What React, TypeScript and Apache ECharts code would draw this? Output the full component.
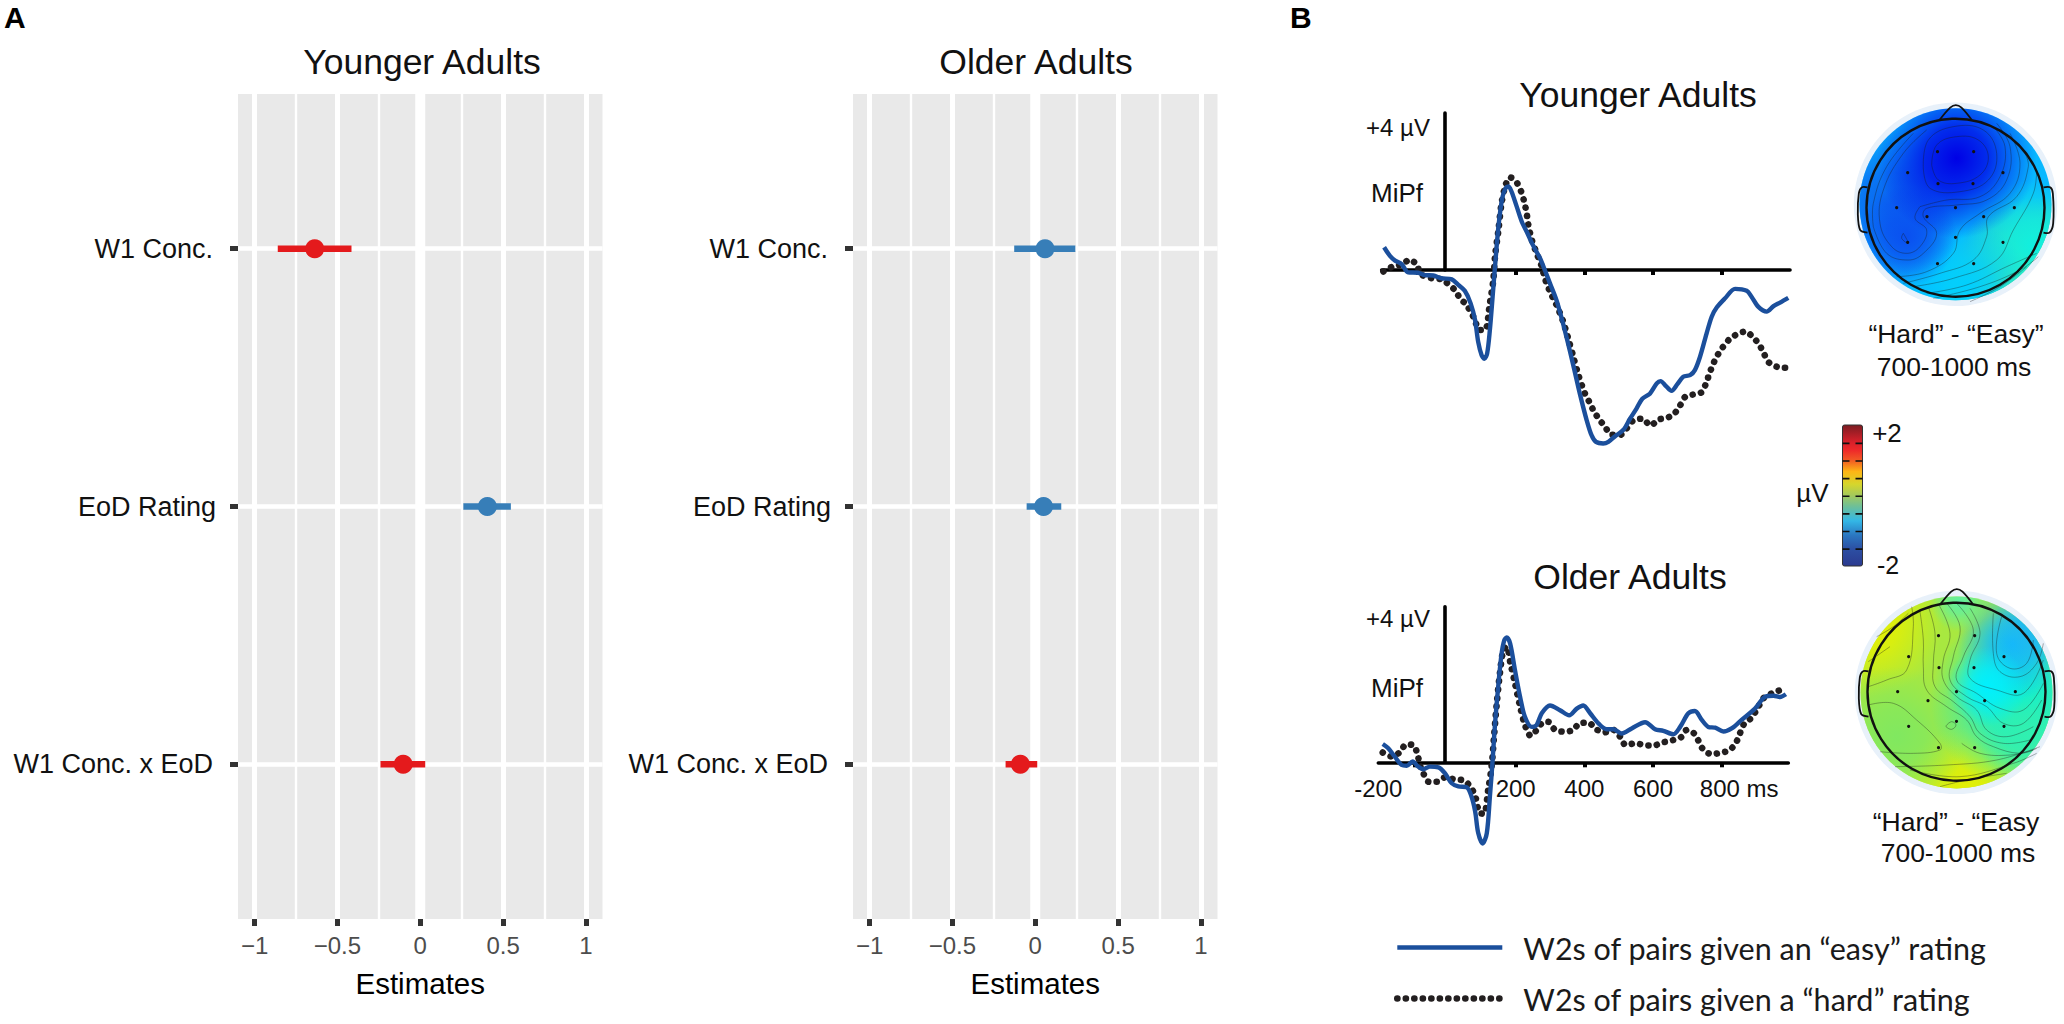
import React, { useEffect, useRef } from "react";
import * as echarts from "echarts";

const FONT = "Liberation Sans";
const rowLabels = ["W1 Conc. x EoD", "EoD Rating", "W1 Conc."];
const rowValues = [1, 2, 3];
const estimateTicks = [-1, -0.5, 0, 0.5, 1];
const estimateMinorTicks = [-0.75, -0.25, 0.25, 0.75];
// [low, estimate, high, row]
const youngerEstimates = [
  [-0.86, -0.637, -0.415, 3],
  [0.26, 0.405, 0.547, 2],
  [-0.24, -0.103, 0.03, 1],
];
const olderEstimates = [
  [-0.127, 0.059, 0.242, 3],
  [-0.052, 0.05, 0.157, 2],
  [-0.179, -0.09, 0.012, 1],
];
const zeroLine = [[0, 0.4], [0, 3.6]];

const easyName = "W2s of pairs given an “easy” rating";
const hardName = "W2s of pairs given a “hard” rating";

const youngerEasy = [[-183,.58],[-166,.36],[-151,.24],[-132,.15],[-113,-.06],[-84,-.07],[-64,-.13],[-40,-.14],[-16,-.21],[14,-.24],[33,-.38],[52,-.53],[69,-.85],[82,-1.28],[91,-1.83],[101,-2.17],[109,-2.26],[117,-2.13],[125,-1.53],[133,-.68],[140,.09],[150,1.11],[161,1.83],[171,2.09],[179,2.13],[188,2.0],[203,1.62],[218,1.23],[232,.98],[250,.64],[271,.3],[285,0],[300,-.34],[319,-.77],[334,-1.23],[349,-1.74],[368,-2.43],[387,-3.15],[407,-3.83],[421,-4.21],[434,-4.38],[455,-4.42],[470,-4.38],[489,-4.24],[514,-4.07],[533,-3.79],[552,-3.53],[569,-3.28],[591,-3.15],[611,-2.89],[622,-2.83],[638,-2.96],[654,-3.08],[671,-2.91],[688,-2.72],[708,-2.68],[722,-2.55],[737,-2.21],[756,-1.62],[771,-1.19],[786,-.95],[810,-.72],[839,-.48],[873,-.53],[887,-.68],[907,-.94],[931,-1.06],[951,-.92],[970,-.83],[994,-.71]];
const youngerHard = [[-185,-.04],[-158,.09],[-132,.14],[-108,.26],[-86,.11],[-79,-.09],[-45,-.21],[-16,-.24],[23,-.51],[38,-.72],[57,-.89],[77,-1.19],[96,-1.53],[111,-1.53],[125,-.85],[135,-.26],[140,.34],[150,1.02],[159,1.7],[171,2.17],[184,2.36],[201,2.26],[216,2.0],[225,1.74],[232,1.45],[237,1.15],[247,.77],[261,.43],[276,.09],[285,-.21],[300,-.55],[319,-.89],[337,-1.28],[353,-1.74],[368,-2.21],[383,-2.68],[402,-3.15],[417,-3.4],[429,-3.62],[446,-3.83],[462,-4.02],[480,-4.2],[504,-4.2],[523,-4.04],[543,-3.83],[569,-3.79],[593,-3.96],[616,-3.81],[640,-3.77],[662,-3.66],[679,-3.45],[694,-3.23],[718,-3.17],[742,-3.11],[756,-2.85],[766,-2.6],[776,-2.38],[788,-2.17],[803,-1.97],[822,-1.77],[844,-1.64],[869,-1.57],[892,-1.72],[910,-1.91],[923,-2.13],[938,-2.36],[962,-2.47],[987,-2.49]];
const olderEasy = [[-187,.47],[-171,.36],[-151,.13],[-132,-.07],[-117,-.09],[-100,.02],[-84,-.11],[-69,-.18],[-50,-.11],[-25,-.13],[-6,-.28],[14,-.54],[33,-.62],[57,-.64],[70,-.84],[82,-1.26],[91,-1.82],[104,-2.09],[116,-1.82],[125,-.88],[133,.06],[140,1.0],[150,2.03],[159,2.79],[167,3.14],[174,3.21],[184,3.05],[198,2.37],[213,1.68],[227,1.17],[247,.91],[261,.96],[276,1.26],[300,1.46],[329,1.34],[356,1.21],[378,1.38],[397,1.46],[417,1.26],[441,1.0],[465,.85],[485,.85],[509,.74],[538,.87],[577,1.03],[606,.85],[630,.81],[659,.72],[679,.91],[703,1.26],[722,1.32],[742,1.09],[761,.91],[781,.89],[805,.79],[829,.87],[858,1.09],[897,1.38],[926,1.68],[951,1.71],[970,1.68],[987,1.75]];
const olderHard = [[-187,.25],[-161,.15],[-137,.26],[-119,.46],[-98,.44],[-86,.21],[-79,-.07],[-69,-.28],[-54,-.5],[-30,-.5],[-6,-.39],[23,-.44],[50,-.47],[69,-.64],[82,-.86],[96,-1.31],[108,-1.32],[120,-.71],[130,-.11],[137,.66],[145,1.51],[154,2.28],[164,2.88],[174,2.97],[185,2.54],[198,2.03],[213,1.43],[227,.96],[244,.68],[261,.83],[276,1.0],[295,1.04],[315,.83],[339,.79],[368,.83],[385,1.0],[412,1.02],[434,.85],[460,.77],[485,.83],[504,.66],[521,.44],[548,.49],[575,.44],[601,.43],[628,.51],[654,.56],[681,.64],[698,.83],[720,.74],[732,.56],[747,.32],[771,.21],[800,.25],[824,.32],[842,.51],[853,.74],[866,1.0],[885,1.13],[904,1.38],[921,1.64],[941,1.75],[962,1.83],[985,1.9]];
const youngerErpTicks = [-86, 200, 400, 600, 800];
const olderErpTicks = [-93, 200, 400, 600, 800];
const olderErpLabels = [-200, 200, 400, 600, 800];

const colorbarStops = [
  [0, "#7B1C22"], [0.12, "#D7202A"], [0.18, "#EE2A2A"], [0.25, "#F15A24"], [0.33, "#FDB515"],
  [0.42, "#D6D62C"], [0.5, "#A3C95C"], [0.58, "#6CBF9A"], [0.68, "#33B7E6"], [0.78, "#2B78C2"],
  [0.88, "#2C4FA3"], [1, "#2B3A8F"],
];
const electrodes = [[-54,-168],[54.5,-168],[-143.5,-105],[142.5,-105],[-52.5,-72],[52.5,-72],[-176.5,0],[0,0],[176.5,0],[-85.5,27],[84.5,27],[0,89],[-143.5,104],[142.5,104],[-54,168],[54.5,168]];
const noseShape = [[-48,-263],[-16,-300],[1,-308],[18,-300],[49,-263]];
const leftEar = [[-264,-61],[-281,-61],[-290,-43],[-293,20],[-286,67],[-264,75]];
const rightEar = [[264,-61],[284,-61],[292,-43],[293,47],[282,75],[264,75]];

// scalp-map blobs: [x, y, radius, colour]  (in 1/3 px, relative to the crop origin)
const topBlobs = [
  [790,640,320,"#80F050"],[760,470,200,"#10F0E0"],[560,590,190,"#00D0FF"],[340,340,230,"#0A60F0"],[380,440,150,"#0A50F0"],
  [530,205,240,"#0000E6"],
];
const bottomBlobs = [
  [270,670,220,"#E8F000"],[560,1190,210,"#E8F000"],[350,1010,210,"#80E860"],[720,900,270,"#00F0E0"],
  [730,990,150,"#30F0B0"],[700,730,170,"#10B8FF"],[770,670,130,"#20B8F0"],[620,860,120,"#00F0FF"],[540,605,90,"#60F0A0"],
];
const topContours = [
  [[455,225],[470,165],[530,140],[595,150],[625,200],[600,255],[530,280],[475,270],[455,225]],
  [[430,235],[445,150],[520,110],[610,120],[650,190],[625,270],[540,305],[450,295],[430,235]],
  [[420,350],[500,330],[600,320],[660,260],[675,170],[640,110]],
  [[420,350],[405,385],[440,420],[420,470],[380,490],[335,470],[300,400],[310,300],[370,190],[440,120]],
  [[370,430],[385,460],[365,445],[370,430]],
  [[280,410],[280,340],[320,230],[400,130]],
  [[280,410],[320,490],[385,510],[430,490],[470,430],[430,380],[440,355],[530,345],[620,330],[680,270],[690,170],[650,100]],
  [[350,560],[440,545],[520,490],[540,420],[600,370],[690,310],[720,220],[690,130]],
  [[370,580],[480,550],[580,510],[620,440],[625,380],[710,320],[745,230],[735,190]],
  [[400,590],[520,565],[650,510],[700,420],[760,310],[770,240]],
  [[440,610],[560,585],[680,530],[770,490]],
  [[460,625],[600,590],[720,540],[775,500]],
  [[570,635],[660,590],[740,530]],
];
const bottomContours = [
  [[420,635],[430,720],[430,800],[440,870],[500,920],[560,960],[590,1010],[640,1040],[720,1060],[770,1045]],
  [[445,620],[465,700],[460,790],[465,860],[520,905],[570,950],[600,1000],[670,1030],[750,1020]],
  [[475,612],[510,700],[490,780],[490,840],[530,890],[590,930],[620,990],[680,1010],[760,980]],
  [[500,610],[540,680],[520,770],[510,840],[560,890],[620,920],[670,970],[730,970],[785,900]],
  [[530,610],[580,690],[550,770],[530,840],[590,880],[660,925],[730,930],[790,850]],
  [[570,625],[600,700],[570,780],[570,835],[650,870],[730,880],[790,780]],
  [[640,640],[640,760],[660,815],[720,830],[770,790],[790,730]],
  [[665,650],[650,760],[690,805],[740,790],[760,720]],
  [[395,620],[400,680],[380,810],[320,840],[265,860]],
  [[290,710],[340,680],[385,640]],
  [[265,785],[330,740]],
  [[265,915],[340,910],[410,960],[480,1030],[480,1050],[400,1060],[300,1055]],
  [[500,975],[515,965],[528,975],[515,988],[498,980],[500,975]],
  [[345,1100],[500,1095],[650,1080],[780,1040]],
  [[390,1110],[540,1130],[700,1090],[770,1060]],
  [[480,1160],[560,1140],[680,1120]],
  [[545,1030],[600,1060],[690,1065],[760,1050]],
];

function estimateSeries(data: number[][], xAxisIndex: number, yAxisIndex: number) {
  return {
    type: "custom",
    xAxisIndex,
    yAxisIndex,
    z: 5,
    data,
    encode: { x: [0, 1, 2], y: 3 },
    renderItem(_p: any, api: any) {
      const low = api.coord([api.value(0), api.value(3)]);
      const mid = api.coord([api.value(1), api.value(3)]);
      const high = api.coord([api.value(2), api.value(3)]);
      const color = api.value(1) < 0 ? "#E41A1C" : "#377EB8";
      return {
        type: "group",
        children: [
          { type: "rect", shape: { x: low[0], y: low[1] - 3.2, width: high[0] - low[0], height: 6.4 }, style: { fill: color } },
          { type: "circle", shape: { cx: mid[0], cy: mid[1], r: 9.5 }, style: { fill: color } },
        ],
      };
    },
  };
}

function head(cx: number, cy: number, diskY: number, ox: number, oy: number, blobs: any[], base: string, contours: number[][][]) {
  const Z = (p: number[]) => [ox + p[0] / 3, oy + p[1] / 3];
  const R = (p: number[]) => [cx + p[0] / 3, cy + p[1] / 3];
  const els: any[] = [
    { type: "circle", shape: { cx, cy: diskY, r: 101.7 }, style: { fill: "#E8F1FA" }, z: 1 },
    { type: "circle", shape: { cx, cy: diskY, r: 96 }, style: { fill: base }, z: 1 },
  ];
  blobs.forEach((b) => {
    const c = Z(b);
    els.push({
      type: "circle",
      shape: { cx, cy: diskY, r: 96 },
      z: 1,
      style: {
        fill: new echarts.graphic.RadialGradient(c[0], c[1], b[2] / 3, [
          { offset: 0, color: b[3] },
          { offset: 0.4, color: b[3] + "C0" },
          { offset: 1, color: b[3] + "00" },
        ], true),
      },
    });
  });
  contours.forEach((c) => {
    els.push({ type: "polyline", shape: { points: c.map(Z), smooth: 0.4 }, style: { stroke: "#1a1a1a", fill: "none", lineWidth: 0.6, opacity: 0.6 }, z: 2 });
  });
  electrodes.forEach((e) => {
    const p = R(e);
    els.push({ type: "circle", shape: { cx: p[0], cy: p[1], r: 1.6 }, style: { fill: "#111" }, z: 3 });
  });
  els.push({ type: "circle", shape: { cx, cy, r: 89 }, style: { fill: "none", stroke: "#111", lineWidth: 2.4 }, z: 4 });
  [noseShape, leftEar, rightEar].forEach((s) => {
    els.push({ type: "polyline", shape: { points: s.map(R), smooth: 0.3 }, style: { stroke: "#111", fill: "none", lineWidth: 1.8 }, z: 4 });
  });
  return els;
}

function txt(text: string, x: number, y: number, size: number, align = "center", fill = "#111", weight = "normal") {
  return { type: "text", z: 6, style: { text, x, y, fill, align, verticalAlign: "middle", font: `${weight} ${size}px "${FONT}"` } };
}

function panelXAxes(gridIndex: number) {
  return [
    {
      type: "value", gridIndex, min: -1.1, max: 1.1, name: "Estimates", nameLocation: "middle", nameGap: 49,
      nameTextStyle: { fontFamily: FONT, fontSize: 29.5, color: "#000" },
      axisLine: { show: false, onZero: false },
      axisTick: { show: true, length: 7, customValues: estimateTicks, lineStyle: { color: "#333", width: 5 } },
      axisLabel: {
        show: true, customValues: estimateTicks, margin: 14, fontFamily: FONT, fontSize: 24, color: "#4D4D4D",
        formatter: (v: number) => (v < 0 ? "−" + Math.abs(v) : String(v)),
      },
      splitLine: { show: true, lineStyle: { color: "#fff", width: 5 } },
    },
    {
      type: "value", gridIndex, min: -1.1, max: 1.1, position: "top",
      axisLine: { show: false, onZero: false },
      axisTick: { show: false, customValues: estimateMinorTicks },
      axisLabel: { show: false },
      splitLine: { show: true, lineStyle: { color: "#fff", width: 2.4 } },
    },
  ];
}

function panelYAxis(gridIndex: number) {
  return {
    type: "value", gridIndex, min: 0.4, max: 3.6, position: "left",
    axisLine: { show: false, onZero: false },
    axisTick: { show: true, length: 8, customValues: rowValues, lineStyle: { color: "#333", width: 5 } },
    axisLabel: {
      show: true, customValues: rowValues, margin: 22, fontFamily: FONT, fontSize: 27, color: "#111",
      formatter: (v: number) => (v === 2 ? rowLabels[1] : `{p|${rowLabels[rowValues.indexOf(v)]}}`),
      rich: { p: { fontFamily: FONT, fontSize: 27, color: "#111", padding: [0, 3, 0, 0] } },
    },
    splitLine: { show: true, lineStyle: { color: "#fff", width: 4.6 } },
  };
}

function zeroSeries(xAxisIndex: number, yAxisIndex: number) {
  return {
    type: "line", xAxisIndex, yAxisIndex, z: 1, silent: true, symbol: "none", data: zeroLine,
    lineStyle: { color: "#fff", width: 10 },
  };
}

function erpX(gridIndex: number, min: number, max: number, ticks: number[], labels: any) {
  return {
    type: "value", gridIndex, min, max,
    axisLine: { show: true, onZero: true, lineStyle: { color: "#000", width: 3.6 } },
    axisTick: { show: true, length: 5, customValues: ticks, lineStyle: { color: "#000", width: 4 } },
    axisLabel: labels,
    splitLine: { show: false },
  };
}

function erpY(gridIndex: number, offset: number) {
  return {
    type: "value", gridIndex, min: 0, max: 4, position: "left", offset,
    axisLine: { show: true, onZero: false, lineStyle: { color: "#000", width: 3.6 } },
    axisTick: { show: false }, axisLabel: { show: false }, splitLine: { show: false },
  };
}

function erpLine(name: string, data: number[][], axis: number, hard: boolean) {
  return {
    type: "line", name, data, xAxisIndex: axis, yAxisIndex: axis, clip: false, symbol: "none", smooth: 0.3,
    z: hard ? 3 : 4,
    itemStyle: { color: hard ? "#231F20" : "#1B4F9C" },
    lineStyle: hard
      ? { color: "#231F20", width: 6.6, type: [0.1, 8.4], cap: "round" }
      : { color: "#1B4F9C", width: 4.4 },
  };
}

export default function App() {
  const ref = useRef<HTMLDivElement>(null);
  useEffect(() => {
    document.body.style.margin = "0";
    const chart = echarts.init(ref.current!, null, { renderer: "svg" });
    const title = (text: string, left: number, top: number) => ({
      text, left, top, textAlign: "center", padding: 0,
      textStyle: { fontFamily: FONT, fontSize: 35.5, fontWeight: "normal", color: "#111" },
    });
    const olderLabels = {
      show: true, customValues: olderErpLabels, margin: 14, fontFamily: FONT, fontSize: 24, color: "#111",
      formatter: (v: number) => (v === 800 ? "{m|800 ms}" : String(v)),
      rich: { m: { fontFamily: FONT, fontSize: 24, color: "#111", padding: [0, 0, 0, 35] } },
    };
    const option: any = {
      animation: false,
      title: [
        title("Younger Adults", 422, 44),
        title("Older Adults", 1036, 44),
        title("Younger Adults", 1638, 77),
        title("Older Adults", 1630, 559),
      ],
      grid: [
        { left: 238, top: 94, width: 364.5, height: 825, show: true, backgroundColor: "#E9E9E9", borderWidth: 0 },
        { left: 853, top: 94, width: 364.5, height: 825, show: true, backgroundColor: "#E9E9E9", borderWidth: 0 },
        { left: 1381.7, top: 113, width: 408.3, height: 157 },
        { left: 1378.3, top: 606.7, width: 410, height: 155.6 },
      ],
      xAxis: [
        ...panelXAxes(0),
        ...panelXAxes(1),
        erpX(2, -190, 999, youngerErpTicks, { show: false }),
        erpX(3, -200, 994, olderErpTicks, olderLabels),
      ],
      yAxis: [
        panelYAxis(0),
        { ...panelYAxis(0), position: "right", axisTick: { show: false }, axisLabel: { show: false }, splitLine: { show: false } },
        panelYAxis(1),
        { ...panelYAxis(1), position: "right", axisTick: { show: false }, axisLabel: { show: false }, splitLine: { show: false } },
        erpY(2, -63),
        erpY(3, -66.4),
      ],
      legend: {
        orient: "vertical", left: 1394, top: 932, padding: 0, itemWidth: 105, itemHeight: 6, itemGap: 20,
        data: [easyName, hardName], selectedMode: false,
        lineStyle: { width: "inherit" },
        itemStyle: { opacity: 0 },
        textStyle: { fontFamily: "Lato", fontSize: 30.5, color: "#1a1a1a", padding: [0, 0, 0, 16] },
      },
      series: [
        zeroSeries(0, 0), estimateSeries(youngerEstimates, 0, 0),
        zeroSeries(2, 2), estimateSeries(olderEstimates, 2, 2),
        erpLine(hardName, youngerHard, 4, true), erpLine(easyName, youngerEasy, 4, false),
        erpLine(hardName, olderHard, 5, true), erpLine(easyName, olderEasy, 5, false),
      ],
      graphic: {
        elements: [
          txt("A", 4, 17, 30, "left", "#000", "bold"),
          txt("B", 1290, 17, 30, "left", "#000", "bold"),
          txt("+4 µV", 1398, 127, 24), txt("MiPf", 1397, 193, 26),
          txt("+4 µV", 1398, 618, 24), txt("MiPf", 1397, 688, 26),
          ...head(1955.5, 207.7, 204.3, 1780, 90, topBlobs, "#08B8FF", topContours),
          ...head(1956.5, 691.7, 692.4, 1780, 400, bottomBlobs, "#A8E840", bottomContours),
          txt("“Hard” - “Easy”", 1956, 334, 26.5), txt("700-1000 ms", 1954, 367, 26.5),
          txt("“Hard” - “Easy", 1956, 822, 26.5), txt("700-1000 ms", 1958, 853, 26.5),
          {
            type: "rect", z: 5, shape: { x: 1842.5, y: 425, width: 20, height: 141, r: 2 },
            style: {
              stroke: "#333", lineWidth: 1,
              fill: { type: "linear", x: 0, y: 0, x2: 0, y2: 1, colorStops: colorbarStops.map((s) => ({ offset: s[0], color: s[1] })) },
            },
          },
          ...[0.13, 0.255, 0.38, 0.505, 0.63, 0.755, 0.88].map((f) => ({
            type: "line", z: 6, shape: { x1: 1842.5, y1: 425 + 141 * f, x2: 1862.5, y2: 425 + 141 * f },
            style: { stroke: "#111", lineWidth: 1.6, lineDash: [7, 6] },
          })),
          txt("+2", 1887, 433, 26), txt("-2", 1888, 565, 25), txt("µV", 1812.5, 493, 26),
        ],
      },
    };
    chart.setOption(option);
    return () => chart.dispose();
  }, []);
  return <div ref={ref} style={{ position: "absolute", left: 0, top: 0, width: 2064, height: 1024 }} />;
}
